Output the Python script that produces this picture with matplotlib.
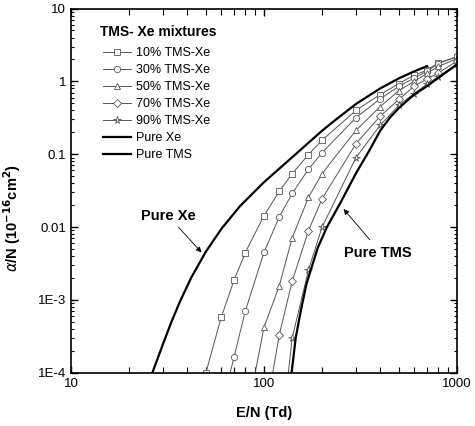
import matplotlib
matplotlib.use("Agg")
import matplotlib.pyplot as plt
from matplotlib.ticker import FixedLocator, FixedFormatter, LogLocator, NullFormatter
import numpy as np

plt.rcParams['font.family'] = ['Liberation Sans', 'DejaVu Sans']

# E/N (Td) and alpha/N (1e-16 cm^2)
en_10 = [50, 60, 70, 80, 100, 120, 140, 170, 200, 300, 400, 500, 600, 700, 800, 1000]
a_10 = [1.0e-4, 5.75e-4, 1.87e-3, 4.46e-3, 0.0143, 0.031, 0.054, 0.099, 0.156,
        0.40, 0.66, 0.93, 1.22, 1.42, 1.8, 2.15]

en_30 = [60, 70, 80, 100, 120, 140, 170, 200, 300, 400, 500, 600, 700, 800, 1000]
a_30 = [3.2e-5, 1.65e-4, 7.0e-4, 4.5e-3, 0.0138, 0.0289, 0.0622, 0.105,
        0.318, 0.574, 0.857, 1.11, 1.38, 1.75, 2.2]

en_50 = [80, 100, 120, 140, 170, 200, 300, 400, 500, 600, 700, 800, 1000]
a_50 = [2.0e-5, 4.2e-4, 1.56e-3, 7.1e-3, 0.0255, 0.0543, 0.213, 0.45, 0.745,
        1.0, 1.29, 1.6, 2.05]

en_70 = [100, 120, 140, 170, 200, 300, 400, 500, 600, 700, 800, 1000]
a_70 = [2.0e-5, 3.3e-4, 1.8e-3, 8.9e-3, 0.0244, 0.14, 0.333, 0.564, 0.86,
        1.08, 1.3, 1.9]

en_90 = [130, 140, 170, 200, 300, 400, 500, 600, 700, 800, 1000]
a_90 = [5.0e-5, 3.0e-4, 2.56e-3, 9.97e-3, 0.09, 0.25, 0.47, 0.68, 0.92, 1.15, 1.75]

en_xe = [26.4, 30, 33, 36.7, 42, 50, 60.4, 75, 100, 145, 200, 240, 300, 400,
         500, 600, 700]
a_xe = [1.0e-4, 2.5e-4, 4.85e-4, 9.5e-4, 2.03e-3, 4.6e-3, 9.6e-3, 0.0193, 0.0413,
        0.0986, 0.21, 0.31, 0.49, 0.80, 1.10, 1.37, 1.62]

en_tms = [139, 146, 155, 166, 175, 190, 212, 250, 300, 350, 400, 450, 500,
          600, 700, 800, 1000]
a_tms = [1.0e-4, 3.0e-4, 7.0e-4, 1.65e-3, 2.6e-3, 5.2e-3, 0.01, 0.022, 0.055,
         0.11, 0.21, 0.32, 0.43, 0.66, 0.86, 1.12, 1.7]

mix_labels = ['10% TMS-Xe', '30% TMS-Xe', '50% TMS-Xe', '70% TMS-Xe', '90% TMS-Xe']
ytick_vals = [1e-4, 1e-3, 1e-2, 1e-1, 1, 10]
ytick_labels = ['1E-4', '1E-3', '0.01', '0.1', '1', '10']
xtick_vals = [10, 100, 1000]
xtick_labels = ['10', '100', '1000']

fig = plt.figure(figsize=(4.75, 4.26), dpi=100)
ax = fig.add_axes([0.1495, 0.125, 0.8125, 0.855])

gray = '#555555'
series = [(en_10, a_10, 's'), (en_30, a_30, 'o'), (en_50, a_50, '^'),
          (en_70, a_70, 'D'), (en_90, a_90, '*')]
for (x, y, m), lab in zip(series, mix_labels):
    ms = 4.5
    if m == 'D':
        ms = 3.8
    if m == '*':
        ms = 5.5
    ax.plot(x, y, color=gray, lw=0.7, marker=m, ms=ms, mfc='white',
            mec=gray, mew=0.6, label=lab)

ax.plot(en_xe, a_xe, color='black', lw=1.6, label='Pure Xe')
ax.plot(en_tms, a_tms, color='black', lw=1.6, label='Pure TMS')

ax.set_xscale('log')
ax.set_yscale('log')
ax.set_xlim(10, 1000)
ax.set_ylim(1e-4, 10)

ax.yaxis.set_major_locator(FixedLocator(ytick_vals))
ax.yaxis.set_major_formatter(FixedFormatter(ytick_labels))
ax.xaxis.set_major_locator(FixedLocator(xtick_vals))
ax.xaxis.set_major_formatter(FixedFormatter(xtick_labels))
ax.xaxis.set_minor_locator(LogLocator(base=10, subs=np.arange(2, 10)))
ax.yaxis.set_minor_locator(LogLocator(base=10, subs=np.arange(2, 10)))
ax.xaxis.set_minor_formatter(NullFormatter())
ax.yaxis.set_minor_formatter(NullFormatter())

ax.tick_params(which='both', direction='in', top=True, right=True, labelsize=9.5)
ax.tick_params(which='major', length=5, width=1)
ax.tick_params(which='minor', length=2.5, width=0.8)
ax.tick_params(axis='x', which='minor', length=4)
for s in ax.spines.values():
    s.set_linewidth(1.2)

ax.set_xlabel('E/N (Td)', fontsize=10.5, fontweight='bold', labelpad=12)
ax.set_ylabel(r'$\alpha$/N (10$^{\mathbf{-16}}$cm$^{\mathbf{2}}$)', fontsize=10.5,
              fontweight='bold')
ax.yaxis.set_label_coords(-0.125, 0.425)

# legend title drawn as text so the gap below it matches
ax.text(0.075, 0.935, 'TMS- Xe mixtures', transform=ax.transAxes, fontsize=10,
        fontweight='bold', ha='left', va='center')
leg = ax.legend(loc='upper left', frameon=False, fontsize=9, handlelength=2.2,
                handletextpad=0.4, labelspacing=0.4, borderaxespad=0.0,
                bbox_to_anchor=(0.07, 0.908))

ax.text(31.8, 0.0141, 'Pure Xe', fontsize=10.5, fontweight='bold',
        ha='center', va='center')
ax.annotate('', xy=(48.5, 4.2e-3), xytext=(35.3, 0.0106),
            arrowprops=dict(arrowstyle='-|>', lw=0.6, color='black', mutation_scale=8))
ax.text(390, 4.39e-3, 'Pure TMS', fontsize=10.5, fontweight='bold',
        ha='center', va='center')
ax.annotate('', xy=(253, 0.0189), xytext=(361, 6.27e-3),
            arrowprops=dict(arrowstyle='-|>', lw=0.6, color='black', mutation_scale=8))

fig.savefig('out.png', dpi=100)
